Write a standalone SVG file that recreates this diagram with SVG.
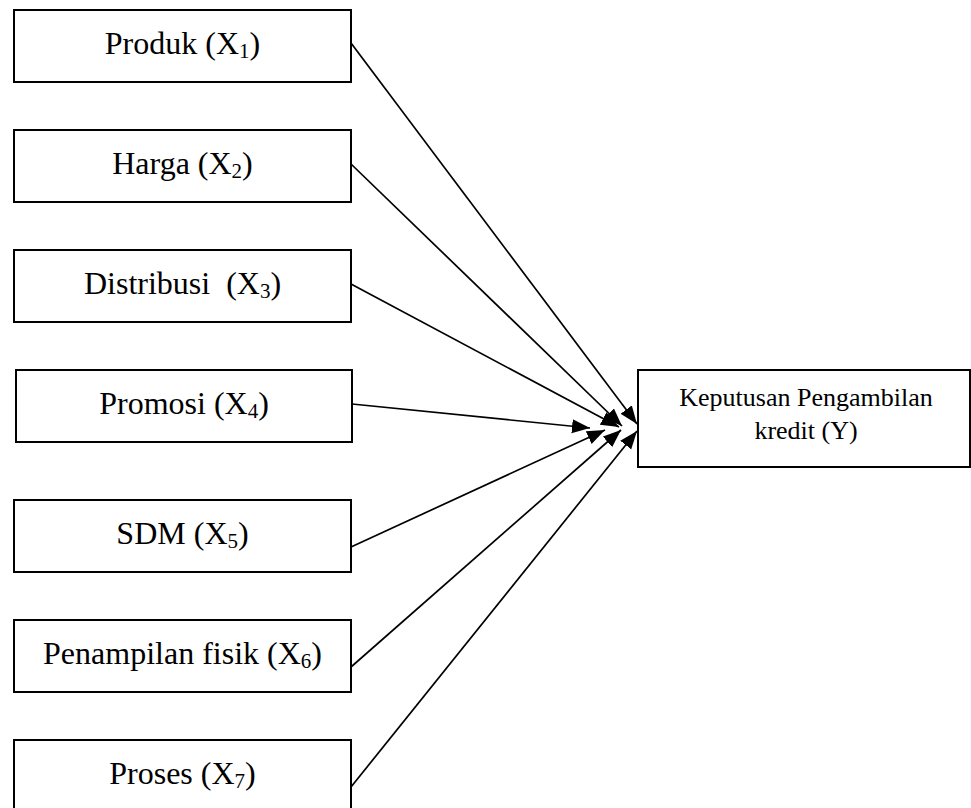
<svg xmlns="http://www.w3.org/2000/svg" width="971" height="808" viewBox="0 0 971 808">
<style>
.box{fill:#fff;stroke:#000;stroke-width:2}
.lbl{font-family:"Liberation Serif","Times New Roman",serif;font-size:32px;fill:#000;text-anchor:middle}
.lblr{font-family:"Liberation Serif","Times New Roman",serif;font-size:26px;fill:#000;text-anchor:middle}
.sub{font-size:21px}
.con{stroke:#000;stroke-width:1.7;fill:none;marker-end:url(#arr)}
</style>
<defs>
<marker id="arr" markerUnits="userSpaceOnUse" markerWidth="20" markerHeight="16" refX="18" refY="7" orient="auto">
<path d="M0,0 L18,7 L0,14 z" fill="#000"/>
</marker>
</defs>
<rect width="971" height="808" fill="#fff"/>
<g id="connectors">
<line class="con" x1="351" y1="43" x2="637" y2="424"/>
<line class="con" x1="351" y1="164" x2="622" y2="426"/>
<line class="con" x1="351" y1="284" x2="619" y2="427"/>
<line class="con" x1="352" y1="404" x2="590" y2="428"/>
<line class="con" x1="351" y1="547" x2="605" y2="430"/>
<line class="con" x1="351" y1="667" x2="621" y2="430"/>
<line class="con" x1="351" y1="787" x2="637" y2="431"/>
</g>
<g id="x1">
<rect class="box" x="14" y="10" width="337" height="72"/>
<text class="lbl" x="182.5" y="54">Produk (X<tspan class="sub" dy="4">1</tspan><tspan dy="-4">)</tspan></text>
</g>
<g id="x2">
<rect class="box" x="14" y="130" width="337" height="72"/>
<text class="lbl" x="182.5" y="174">Harga (X<tspan class="sub" dy="4">2</tspan><tspan dy="-4">)</tspan></text>
</g>
<g id="x3">
<rect class="box" x="14" y="250" width="337" height="72"/>
<text class="lbl" x="182.5" y="294" xml:space="preserve">Distribusi  (X<tspan class="sub" dy="4">3</tspan><tspan dy="-4">)</tspan></text>
</g>
<g id="x4">
<rect class="box" x="16" y="370" width="336" height="72"/>
<text class="lbl" x="184" y="414">Promosi (X<tspan class="sub" dy="4">4</tspan><tspan dy="-4">)</tspan></text>
</g>
<g id="x5">
<rect class="box" x="14" y="500" width="337" height="72"/>
<text class="lbl" x="182.5" y="544">SDM (X<tspan class="sub" dy="4">5</tspan><tspan dy="-4">)</tspan></text>
</g>
<g id="x6">
<rect class="box" x="14" y="620" width="337" height="72"/>
<text class="lbl" x="182.5" y="664">Penampilan fisik (X<tspan class="sub" dy="4">6</tspan><tspan dy="-4">)</tspan></text>
</g>
<g id="x7">
<rect class="box" x="14" y="740" width="337" height="72"/>
<text class="lbl" x="182.5" y="784">Proses (X<tspan class="sub" dy="4">7</tspan><tspan dy="-4">)</tspan></text>
</g>
<g id="y">
<rect class="box" x="638" y="370" width="332" height="97"/>
<text class="lblr" x="806" y="406">Keputusan Pengambilan</text>
<text class="lblr" x="806" y="439">kredit (Y)</text>
</g>
</svg>
